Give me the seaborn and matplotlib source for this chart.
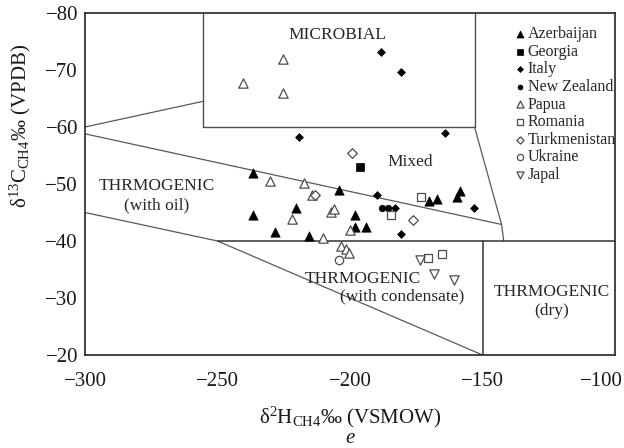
import numpy as np
import pandas as pd
import matplotlib
matplotlib.use('Agg')
import matplotlib.pyplot as plt
import matplotlib.transforms as mtrans
import seaborn as sns

# =============================
# Data
# =============================
countries = ['Azerbaijan', 'Georgia', 'Italy', 'New Zealand', 'Papua',
             'Romania', 'Turkmenistan', 'Ukraine', 'Japal']

azerbaijan_x = [-236.5, -204.2, -220.2, -236.5, -228.2, -215.3, -198.3, -198.1,
                -193.8, -170.3, -167.3, -159.7, -158.5]
azerbaijan_y = [-51.9, -48.9, -45.8, -44.6, -41.6, -40.9, -44.6, -42.5,
                -42.4, -47.1, -47.3, -47.7, -48.7]

georgia_x = [-196.2]
georgia_y = [-52.9]

italy_x = [-188.3, -180.7, -164.0, -189.8, -183.2, -153.3, -180.8, -219.2]
italy_y = [-73.2, -69.6, -58.9, -48.0, -45.8, -45.8, -41.2, -58.3]

nz_x = [-188.0, -185.8]
nz_y = [-45.8, -45.8]

papua_x = [-225.1, -240.5, -225.1, -230.3, -217.2, -214.3, -207.2, -205.9,
           -221.8, -199.9, -210.3, -203.3, -201.5, -200.5]
papua_y = [-72.0, -67.7, -65.9, -50.6, -50.2, -48.0, -45.1, -45.6,
           -43.9, -42.0, -40.5, -39.2, -38.6, -37.9]

romania_x = [-173.1, -184.6, -170.4, -165.2]
romania_y = [-47.8, -44.6, -37.1, -37.7]

turkmenistan_x = [-199.3, -213.1, -176.4]
turkmenistan_y = [-55.5, -48.1, -43.7]

ukraine_x = [-204.2]
ukraine_y = [-36.7]

japal_x = [-173.7, -168.2, -160.6]
japal_y = [-36.7, -34.2, -33.1]

xs = [azerbaijan_x, georgia_x, italy_x, nz_x, papua_x, romania_x,
      turkmenistan_x, ukraine_x, japal_x]
ys = [azerbaijan_y, georgia_y, italy_y, nz_y, papua_y, romania_y,
      turkmenistan_y, ukraine_y, japal_y]

df = pd.concat([pd.DataFrame({'country': c, 'dH': x, 'dC': y})
                for c, x, y in zip(countries, xs, ys)], ignore_index=True)

# marker, filled?, size
estilos = {
    'Azerbaijan': ('^', True, 45),
    'Georgia': ('s', True, 35),
    'Italy': ('D', True, 16),
    'New Zealand': ('o', True, 22),
    'Papua': ('^', False, 45),
    'Romania': ('s', False, 40),
    'Turkmenistan': ('D', False, 24),
    'Ukraine': ('o', False, 36),
    'Japal': ('v', False, 45),
}

# =============================
# Style
# =============================
sns.set_style('white')
plt.rcParams['font.family'] = ['Liberation Serif', 'DejaVu Serif']
plt.rcParams['mathtext.fontset'] = 'custom'
plt.rcParams['mathtext.rm'] = 'Liberation Serif'
plt.rcParams['mathtext.it'] = 'Liberation Serif:italic'

fig = plt.figure(figsize=(6.24, 4.48), dpi=100)
ax = fig.add_axes([85 / 624, 93 / 448, 530 / 624, 342 / 448])

# =============================
# Region boundaries
# =============================
cinza = '0.35'
# microbial box
ax.plot([-255.5, -255.5, -153, -153], [-80, -60, -60, -80], color='0.3', lw=1.0)
ax.plot([-300, -255.5], [-60, -64.5], color=cinza, lw=0.9)
# mixed / thermogenic with oil
ax.plot([-300, -142.8], [-58.8, -42.9], color=cinza, lw=0.9)
ax.plot([-153, -142.8, -142], [-60, -42.9, -40], color=cinza, lw=0.9)
# lower boundaries
ax.plot([-300, -250], [-45, -40], color=cinza, lw=0.9)
ax.plot([-250, -150], [-40, -20], color=cinza, lw=0.9)
ax.plot([-250, -100], [-40, -40], color='0.2', lw=1.1)
ax.plot([-150, -150], [-40, -20], color='0.2', lw=1.1)

# =============================
# Points
# =============================
for pais in countries:
    m, cheio, s = estilos[pais]
    sub = df[df['country'] == pais]
    if cheio:
        sns.scatterplot(data=sub, x='dH', y='dC', marker=m, s=s, color='black',
                        edgecolor='black', linewidth=0.5, label=pais, ax=ax, zorder=3)
    else:
        sns.scatterplot(data=sub, x='dH', y='dC', marker=m, s=s, color='white',
                        edgecolor='0.3', linewidth=0.9, label=pais, ax=ax, zorder=3)

# =============================
# Region labels
# =============================
fs = 12.5
ax.text(-204.7, -76.2, 'MICROBIAL', ha='center', va='center', fontsize=fs)
ax.text(-177.4, -53.9, 'Mixed', ha='center', va='center', fontsize=fs)
ax.text(-272.9, -48.0, 'THRMOGENIC\n(with oil)', ha='center', va='center',
        fontsize=fs, linespacing=1.3)
ax.text(-195.0, -33.3, 'THRMOGENIC', ha='center', va='center', fontsize=fs)
ax.text(-180.3, -30.3, '(with condensate)', ha='center', va='center', fontsize=fs)
ax.text(-124.0, -29.4, 'THRMOGENIC\n(dry)', ha='center', va='center',
        fontsize=fs, linespacing=1.3)

# =============================
# Axes
# =============================
ax.set_xlim(-300, -100)
ax.set_ylim(-20, -80)
ax.set_xticks([-300, -250, -200, -150, -100])
ax.set_yticks([-80, -70, -60, -50, -40, -30, -20])
ax.set_xticklabels(['\u2212300', '\u2212250', '\u2212200', '\u2212150', '\u2212100'])
ax.set_yticklabels(['\u221280', '\u221270', '\u221260', '\u221250', '\u221240',
                    '\u221230', '\u221220'])
ax.tick_params(direction='in', length=6, width=1, labelsize=15,
               color='0.2', labelcolor='0.1')
ax.tick_params(axis='x', pad=12)
ax.tick_params(axis='y', pad=5)
for sp in ax.spines.values():
    sp.set_color('0.15')
    sp.set_linewidth(1.2)

# the last x tick label sits a bit to the left so it stays inside the figure
ultimo = ax.get_xticklabels()[-1]
ultimo.set_transform(ultimo.get_transform() +
                     mtrans.ScaledTranslation(-14 / 100, 0, fig.dpi_scale_trans))

ax.set_xlabel('δ$^{2}$H$_{\\mathrm{CH4}}$‰ (VSMOW)', fontsize=15, color='0.1', labelpad=10)
ax.set_ylabel('δ$^{13}$C$_{\\mathrm{CH4}}$‰ (VPDB)', fontsize=15, color='0.1')
ax.yaxis.set_label_coords(-0.098, 0.67)
fig.text((85 + 615) / 2 / 624, 1 - 438 / 448, 'e', style='italic', fontsize=15,
         ha='center', va='center', color='0.1')

ax.legend(loc='upper left', bbox_to_anchor=(0.79, 0.985), frameon=False,
          fontsize=11.5, handletextpad=0.0, labelspacing=0.1, borderpad=0,
          handlelength=1.0, markerscale=0.75)

plt.savefig('out.png', dpi=100)
